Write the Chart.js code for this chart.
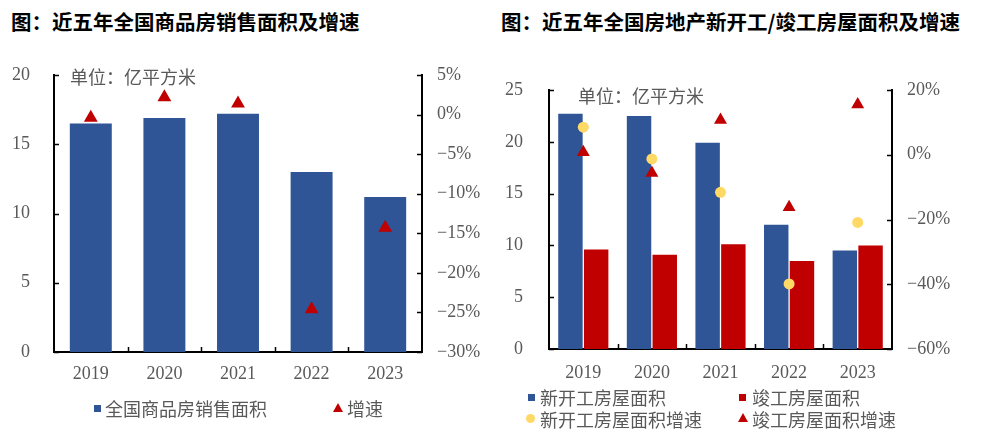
<!DOCTYPE html>
<html><head><meta charset="utf-8">
<script src="https://cdn.jsdelivr.net/npm/chart.js@4"></script>
<style>
body{margin:0;background:#fff;width:981px;height:442px;overflow:hidden;position:relative;font-family:"Noto Sans CJK SC";}
.title{position:absolute;top:9px;font-weight:bold;font-size:20.5px;line-height:24px;color:#000;white-space:nowrap;}
.cw{position:absolute;top:0;height:442px;}
.unit{position:absolute;font-size:18px;line-height:22px;color:#595959;white-space:nowrap;}
.leg{position:absolute;font-size:18px;line-height:22px;color:#595959;white-space:nowrap;}
.mk{position:absolute;}
</style></head>
<body>
<div class="title" style="left:11px">图：近五年全国商品房销售面积及增速</div>
<div class="title" style="left:501px">图：近五年全国房地产新开工/竣工房屋面积及增速</div>
<div class="cw" style="left:0;width:490px"><canvas id="c1" width="490" height="442"></canvas></div>
<div class="cw" style="left:490px;width:491px"><canvas id="c2" width="491" height="442"></canvas></div>
<div class="unit" style="left:70px;top:65px">单位：亿平方米</div>
<div class="unit" style="left:578px;top:84px">单位：亿平方米</div>
<div id="legends"></div>
<script>
const years = ['2019','2020','2021','2022','2023'];
const salesArea = [16.5, 16.9, 17.2, 13.0, 11.2];
const salesGrowth = [-0.4, 2.2, 1.4, -24.6, -14.3];
const startsArea = [22.7, 22.5, 19.9, 12.0, 9.5];
const completedArea = [9.6, 9.1, 10.1, 8.5, 10.0];
const startsGrowth = [8.5, -1.3, -11.6, -39.9, -20.9];
const completedGrowth = [0.8, -5.6, 10.7, -16.2, 15.5];
const names1 = ['全国商品房销售面积','增速'];
const names2 = ['新开工房屋面积','竣工房屋面积','新开工房屋面积增速','竣工房屋面积增速'];

const BLUE='#2F5597', RED='#C00000', YEL='#FFD966', GRAY='#595959';
Chart.defaults.font.family='"Liberation Serif"';
Chart.defaults.font.size=18;
Chart.defaults.color=GRAY;
Chart.defaults.animation=false;

const pct = v => (v<0?'\u2212'+Math.abs(v):v)+'%';

const innerTicks = {
  id:'innerTicks',
  afterDraw(chart){
    const ctx=chart.ctx, a=chart.chartArea;
    ctx.save(); ctx.strokeStyle='#000'; ctx.lineWidth=1.5;
    ['y','y1'].forEach(id=>{
      const s=chart.scales[id];
      s.ticks.forEach(t=>{
        const y=Math.round(s.getPixelForValue(t.value))+0.5;
        const x = id==='y'? a.left : a.right;
        const d = id==='y'? 5 : -5;
        ctx.beginPath(); ctx.moveTo(x,y); ctx.lineTo(x+d,y); ctx.stroke();
      });
    });
    const xs=chart.scales.x;
    for(let i=0;i<years.length-1;i++){
      const x=Math.round((xs.getPixelForValue(i)+xs.getPixelForValue(i+1))/2)+0.5;
      ctx.beginPath(); ctx.moveTo(x,a.bottom); ctx.lineTo(x,a.bottom-5); ctx.stroke();
    }
    ctx.restore();
  }
};

function scalesFor(o){
  return {
    x:{ grid:{display:false,drawTicks:false}, border:{color:'#000',width:2},
        ticks:{padding:o.xpad,color:GRAY,font:{size:18}}, afterFit(s){s.height=o.xh;} },
    y:{ position:'left', min:o.ymin, max:o.ymax, grid:{display:false,drawTicks:false},
        border:{color:'#000',width:2}, ticks:{stepSize:o.ystep,padding:o.lpad,color:GRAY,font:{size:18}},
        afterFit(s){s.width=o.lw;} },
    y1:{ position:'right', min:o.y1min, max:o.y1max, grid:{display:false,drawTicks:false},
        border:{color:'#000',width:2}, ticks:{stepSize:o.y1step,padding:o.rpad,color:GRAY,font:{size:18},callback:v=>pct(v)},
        afterFit(s){s.width=o.rw;} }
  };
}

new Chart(document.getElementById('c1'),{
  type:'bar',
  data:{labels:years,datasets:[
    {type:'line',label:names1[1],data:salesGrowth,yAxisID:'y1',showLine:false,pointStyle:'triangle',
     pointRadius:8,pointBackgroundColor:RED,pointBorderColor:RED,pointBorderWidth:0,clip:false,order:0},
    {type:'bar',label:names1[0],data:salesArea,yAxisID:'y',backgroundColor:BLUE,
     barPercentage:0.57,categoryPercentage:1,order:1}
  ]},
  options:{responsive:false,layout:{padding:{top:75,left:0,right:0,bottom:0}},
    plugins:{legend:{display:false},tooltip:{enabled:false}},
    scales:scalesFor({xpad:11,xh:90,ymin:0,ymax:20,ystep:5,lpad:24,lw:54,y1min:-30,y1max:5,y1step:5,rpad:15,rw:68})},
  plugins:[innerTicks]
});

new Chart(document.getElementById('c2'),{
  type:'bar',
  data:{labels:years,datasets:[
    {type:'line',label:names2[2],data:startsGrowth,yAxisID:'y1',showLine:false,pointStyle:'circle',
     pointRadius:5.5,pointBackgroundColor:YEL,pointBorderColor:YEL,pointBorderWidth:0,clip:false,order:0},
    {type:'line',label:names2[3],data:completedGrowth,yAxisID:'y1',showLine:false,pointStyle:'triangle',
     pointRadius:7.5,pointBackgroundColor:RED,pointBorderColor:RED,pointBorderWidth:0,clip:false,order:0},
    {type:'bar',label:names2[0],data:startsArea,yAxisID:'y',backgroundColor:BLUE,
     barPercentage:0.95,categoryPercentage:0.75,order:1},
    {type:'bar',label:names2[1],data:completedArea,yAxisID:'y',backgroundColor:RED,
     barPercentage:0.95,categoryPercentage:0.75,order:1}
  ]},
  options:{responsive:false,layout:{padding:{top:90,left:0,right:0,bottom:0}},
    plugins:{legend:{display:false},tooltip:{enabled:false}},
    scales:scalesFor({xpad:13,xh:93,ymin:0,ymax:25,ystep:5,lpad:26,lw:59,y1min:-60,y1max:20,y1step:20,rpad:15,rw:89})},
  plugins:[innerTicks]
});

// HTML legends
const L=document.getElementById('legends');
function marker(kind,color,cx,cy){
  const d=document.createElement('div'); d.className='mk';
  if(kind==='square'){ d.style.cssText=`left:${cx-3.5}px;top:${cy-3.5}px;width:7px;height:7px;background:${color}`; }
  else if(kind==='circle'){ d.style.cssText=`left:${cx-4.5}px;top:${cy-4.5}px;width:9px;height:9px;border-radius:50%;background:${color}`; }
  else { d.style.cssText=`left:${cx-5}px;top:${cy-5}px;width:0;height:0;border-left:5px solid transparent;border-right:5px solid transparent;border-bottom:9px solid ${color}`; }
  L.appendChild(d);
}
function text(t,x,cy){
  const d=document.createElement('div'); d.className='leg'; d.textContent=t;
  d.style.left=x+'px'; d.style.top=(cy-11)+'px'; L.appendChild(d);
}
marker('square',BLUE,97,408); text(names1[0],105,408);
marker('tri',RED,338,408); text(names1[1],347,408);
marker('square',BLUE,531,397); text(names2[0],540,397);
marker('square',RED,742,397); text(names2[1],752,397);
marker('circle',YEL,530,418); text(names2[2],540,419);
marker('tri',RED,743,418); text(names2[3],752,419);
</script>
</body></html>
